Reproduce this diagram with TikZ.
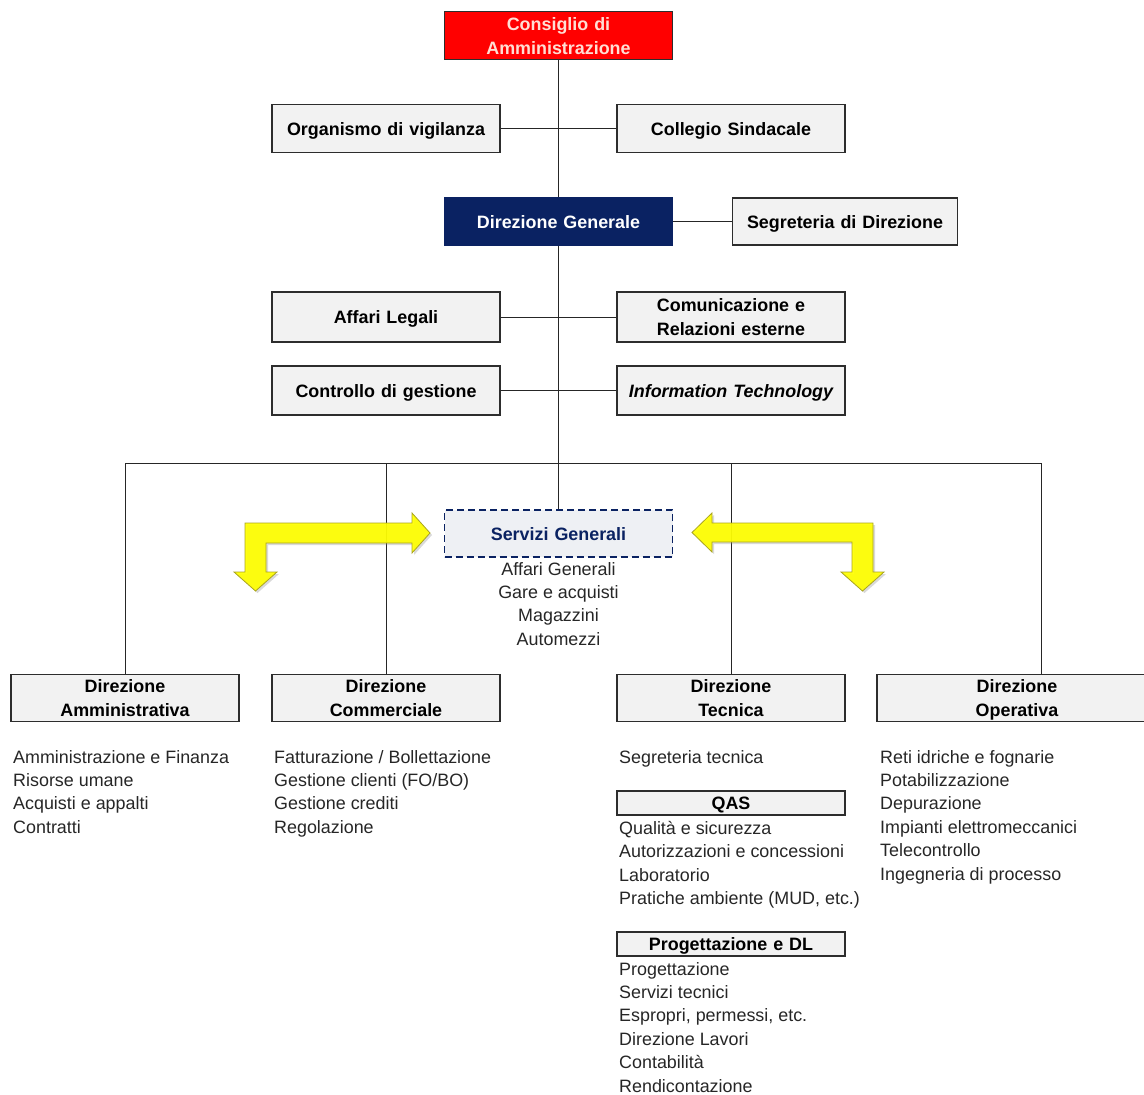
\documentclass[tikz,border=0pt]{standalone}
\usepackage{fontspec}
\setmainfont{Liberation Sans}
\usetikzlibrary{
    shadows,
    positioning,
}
\definecolor{boxgray}{RGB}{242,242,242}
\definecolor{edgegray}{RGB}{45,45,45}
\definecolor{cdared}{RGB}{255,0,0}
\definecolor{cdatext}{RGB}{255,222,212}
\definecolor{dgblue}{RGB}{10,34,98}
\definecolor{sgfill}{RGB}{238,240,244}
\definecolor{arrowyellow}{RGB}{255,255,0}
\definecolor{arrowedge}{RGB}{170,165,30}
\newcommand{\boxfont}{\fontsize{17.9}{24}\selectfont\bfseries}
\newcommand{\listfont}{\fontsize{17.9}{23.4}\selectfont}
\newcommand{\boxstrut}{\rule[-5pt]{0pt}{23.6pt}}
\tikzstyle{block} = [rectangle, draw=edgegray, line width=1.1pt, fill=boxgray,
    text width=228pt, align=center, minimum height=48pt, inner sep=0pt,
    font=\boxfont, execute at begin node=\boxstrut,
    execute at end node=\boxstrut]
\tikzstyle{topblock} = [block, fill=cdared, text=cdatext]
\tikzstyle{dirblock} = [block, fill=dgblue, draw=dgblue, text=white]
\tikzstyle{dashblock} = [block, fill=sgfill, draw=dgblue, text=dgblue, dashed,
    line width=1.6pt, dash pattern=on 7pt off 4pt]
\tikzstyle{subhead} = [block, minimum height=24pt]
\tikzstyle{sublist} = [align=left, inner sep=0pt, anchor=north west,
    text=black!85, font=\listfont]
\tikzstyle{line} = [draw, line width=1pt, black!85]
\tikzstyle{bigarrow} = [fill=arrowyellow, draw=arrowedge, line width=0.8pt,
    fill opacity=0.93,
    drop shadow={shadow xshift=2pt, shadow yshift=-2pt, opacity=0.3}]

\begin{document}
\begin{tikzpicture}[x=1pt, y=-1pt]
        \useasboundingbox (0,0) rectangle (1144,1095);
        % Place nodes
        \node [topblock, minimum height=47pt] (cda) at (558.5,35.5)
            {Consiglio di\\Amministrazione};
        \node [block] (odv) at (386,128.5) {Organismo di vigilanza};
        \node [block] (sind) at (731,128.5) {Collegio Sindacale};
        \node [dirblock, minimum height=47pt] (dg) at (558.5,221.5)
            {Direzione Generale};
        \node [block, text width=225pt, minimum height=47pt] (segr) at (845,221.5)
            {Segreteria di Direzione};
        \node [block, minimum height=50pt] (legali) at (386,317) {Affari Legali};
        \node [block, minimum height=50pt] (comm) at (731,317)
            {Comunicazione e\\Relazioni esterne};
        \node [block, minimum height=49pt] (cdg) at (386,390.5)
            {Controllo di gestione};
        \node [block, minimum height=49pt] (it) at (731,390.5)
            {\itshape Information Technology};
        \node [dashblock, minimum height=47pt] (sg) at (558.5,533.5)
            {Servizi Generali};
        \node [sublist, anchor=north, align=center] (sglist) at (558.5,562)
            {Affari Generali\\Gare e acquisti\\Magazzini\\Automezzi};
        % Directions
        \node [block, minimum height=46pt] (amm) at (125,698)
            {Direzione\\Amministrativa};
        \node [block, minimum height=46pt] (dcom) at (386,698)
            {Direzione\\Commerciale};
        \node [block, minimum height=46pt] (tec) at (731,698)
            {Direzione\\Tecnica};
        \node [block, text width=280pt, minimum height=46pt] (ope) at (1017,698)
            {Direzione\\Operativa};
        % Lists below the directions
        \node [sublist] (ammlist) at (13,750)
            {Amministrazione e Finanza\\Risorse umane\\Acquisti e appalti\\Contratti};
        \node [sublist] (comlist) at (274,750)
            {Fatturazione / Bollettazione\\Gestione clienti (FO/BO)\\Gestione crediti\\Regolazione};
        \node [sublist] (teclist) at (619,750) {Segreteria tecnica};
        \node [subhead] (qas) at (731,803) {QAS};
        \node [sublist] (qaslist) at (619,821)
            {Qualità e sicurezza\\Autorizzazioni e concessioni\\Laboratorio\\Pratiche ambiente (MUD, etc.)};
        \node [subhead] (prog) at (731,944) {Progettazione e DL};
        \node [sublist] (proglist) at (619,962)
            {Progettazione\\Servizi tecnici\\Espropri, permessi, etc.\\Direzione Lavori\\Contabilità\\Rendicontazione};
        \node [sublist] (opelist) at (880,750)
            {Reti idriche e fognarie\\Potabilizzazione\\Depurazione\\Impianti elettromeccanici\\Telecontrollo\\Ingegneria di processo};
        \coordinate (busL) at (125,463);
        \coordinate (busM) at (558.5,463);
        \coordinate (busR) at (1041,463);
        % Draw edges
        \path [line] (cda) -- (dg);
        \path [line] (dg) -- (busM);
        \path [line] (busM) -- (sg);
        \path [line] (odv) -- (sind);
        \path [line] (dg) -- (segr);
        \path [line] (legali) -- (comm);
        \path [line] (cdg) -- (it);
        \path [line] (busL) -- (busR);
        \path [line] (busL) -- (amm);
        \path [line] (dcom.north |- busL) -- (dcom);
        \path [line] (tec.north |- busL) -- (tec);
        \path [line] (busR) -- (busR |- ope.north);
        % Yellow arrows to Servizi Generali
        \path [bigarrow] (430,533) -- (412,513) -- (412,523) -- (245,523)
            -- (245,572) -- (234,572) -- (255.5,591) -- (277,572) -- (266,572)
            -- (266,543) -- (412,543) -- (412,553) -- cycle;
        \path [bigarrow] (692,532.5) -- (712,513) -- (712,523) -- (873,523)
            -- (873,572) -- (884,572) -- (862.5,591) -- (841,572) -- (852,572)
            -- (852,542) -- (712,542) -- (712,552) -- cycle;
    \end{tikzpicture}
\end{document}
